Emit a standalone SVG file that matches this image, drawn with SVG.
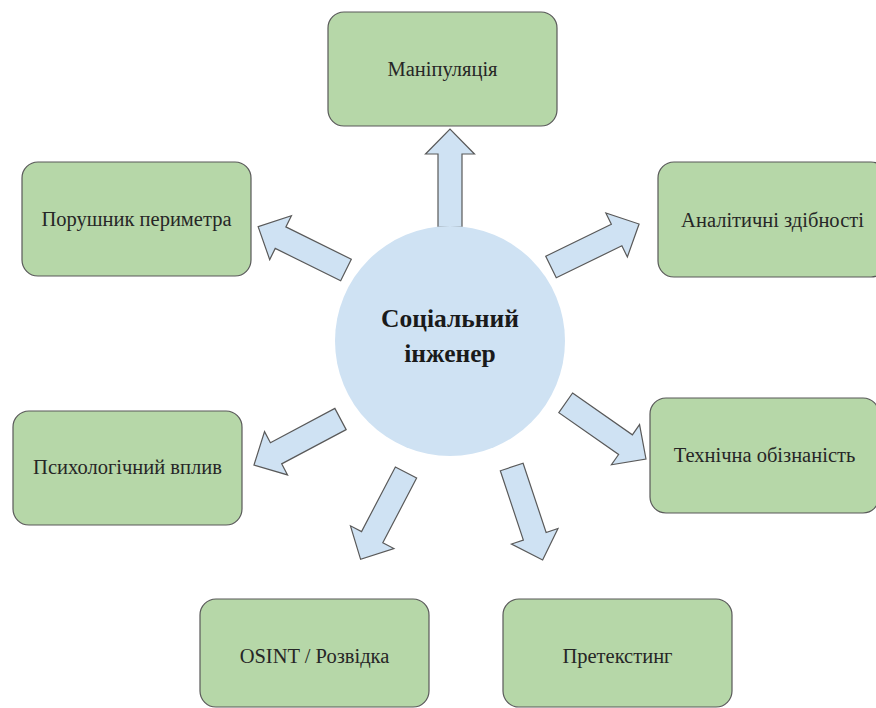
<svg xmlns="http://www.w3.org/2000/svg" width="876" height="708" viewBox="0 0 876 708">
<defs>
<style>
.box{fill:#b6d7a8;stroke:#595959;stroke-width:1.2}
.lbl{font-family:'Liberation Serif','Times New Roman',serif;font-size:20.5px;fill:#262626;text-anchor:middle}
.hub{fill:#cfe2f3}
.hubt{font-family:'Liberation Serif','Times New Roman',serif;font-size:25.5px;font-weight:bold;fill:#1a1a1a;text-anchor:middle}
.arr{fill:#cfe2f3;stroke:#595959;stroke-width:1.2;stroke-linejoin:miter}
</style>
<path id="ar" d="M0,-12 L73,-12 L73,-24.5 L98,0 L73,24.5 L73,12 L0,12 Z"/>
</defs>
<rect width="876" height="708" fill="#ffffff"/>
<g id="connectors">
<use href="#ar" class="arr" transform="translate(450,227) rotate(-90)"/>
<use href="#ar" class="arr" transform="translate(346,270) rotate(206.3)"/>
<use href="#ar" class="arr" transform="translate(551,267) rotate(-26)"/>
<use href="#ar" class="arr" transform="translate(340.5,419) rotate(152)"/>
<use href="#ar" class="arr" transform="translate(565.7,402.8) rotate(35)"/>
<use href="#ar" class="arr" transform="translate(406,472.5) rotate(117.6)"/>
<use href="#ar" class="arr" transform="translate(511.7,467) rotate(71.6)"/>
</g>
<g id="hub">
<circle class="hub" cx="450" cy="341" r="115"/>
<text class="hubt" x="450" y="327">Соціальний</text>
<text class="hubt" x="450" y="362">інженер</text>
</g>
<g id="n-manipulation">
<rect class="box" x="328" y="12" width="229" height="114" rx="16"/>
<text class="lbl" x="442.5" y="76">Маніпуляція</text>
</g>
<g id="n-perimeter">
<rect class="box" x="22" y="162" width="229" height="114" rx="16"/>
<text class="lbl" x="136.5" y="226">Порушник периметра</text>
</g>
<g id="n-analytics">
<rect class="box" x="658" y="162" width="229" height="115" rx="16"/>
<text class="lbl" x="772.5" y="227">Аналітичні здібності</text>
</g>
<g id="n-psych">
<rect class="box" x="13" y="411" width="229" height="114" rx="16"/>
<text class="lbl" x="127.5" y="474">Психологічний вплив</text>
</g>
<g id="n-tech">
<rect class="box" x="650" y="398" width="229" height="115" rx="16"/>
<text class="lbl" x="764.5" y="462">Технічна обізнаність</text>
</g>
<g id="n-osint">
<rect class="box" x="200" y="599" width="229" height="108" rx="16"/>
<text class="lbl" x="314.5" y="663">OSINT / Розвідка</text>
</g>
<g id="n-pretexting">
<rect class="box" x="503" y="599" width="229" height="108" rx="16"/>
<text class="lbl" x="617.5" y="663">Претекстинг</text>
</g>
</svg>
